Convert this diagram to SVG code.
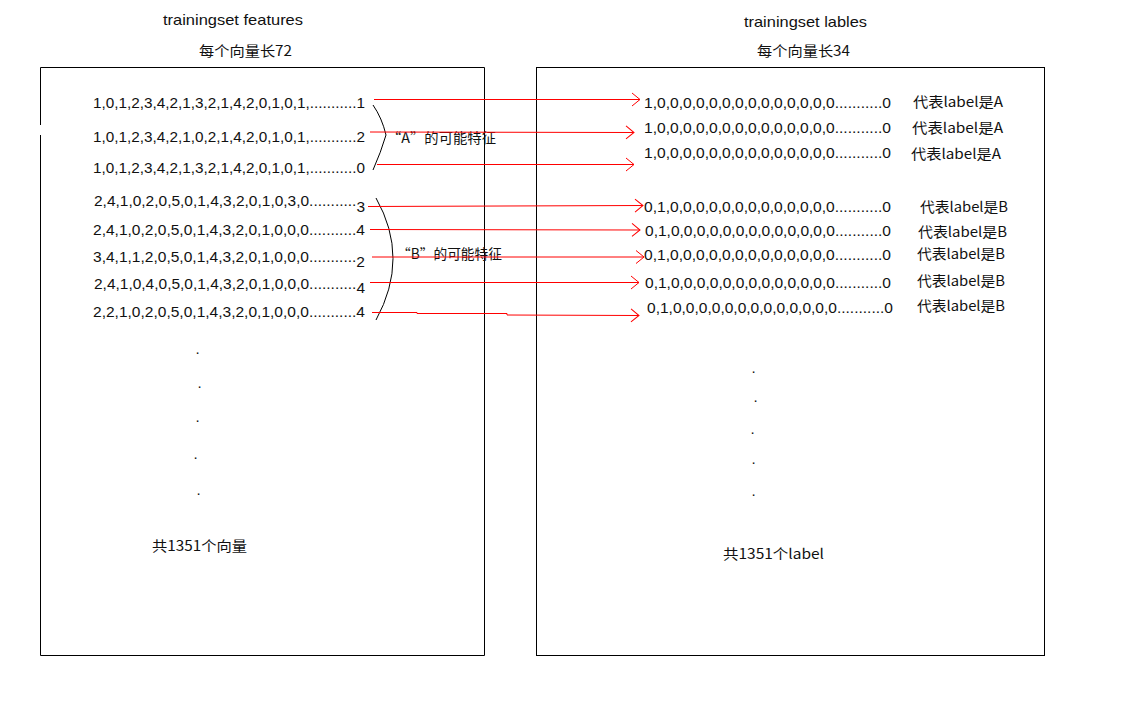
<svg xmlns="http://www.w3.org/2000/svg" width="1148" height="728" viewBox="0 0 1148 728">
<style>
.num{font-family:"Liberation Sans","Noto Sans CJK SC",sans-serif;font-size:15px;fill:#111}
.cn{font-family:"Noto Sans CJK SC","Liberation Sans",sans-serif;font-size:14px;fill:#111}
.ttl{font-family:"Liberation Sans","Noto Sans CJK SC",sans-serif;font-size:14.5px;fill:#111}
.box{fill:none;stroke:#000;stroke-width:1}
.brk{fill:none;stroke:#000;stroke-width:1}
.arr{fill:none;stroke:#f00;stroke-width:1;marker-end:url(#ah)}
.dot{font-family:"Liberation Sans",sans-serif;font-size:15px;fill:#111}
</style>
<defs>
<marker id="ah" markerUnits="userSpaceOnUse" markerWidth="20" markerHeight="20" refX="0" refY="0" viewBox="-12 -10 14 20" orient="auto">
<path d="M-8,-6.5 L0,0 L-8,6.5" fill="none" stroke="#f00" stroke-width="1"/>
</marker>
</defs>
<rect width="1148" height="728" fill="#fff"/>

<g id="features">
<text class="ttl" x="163" y="25" textLength="140" lengthAdjust="spacingAndGlyphs">trainingset features</text>
<text class="cn" x="199" y="56" textLength="93" lengthAdjust="spacingAndGlyphs">每个向量长72</text>
<path class="box" d="M40.5,125 V67.5 H484.5 V655.5 H40.5 V135"/>
<text class="num" x="93" y="108" textLength="272" lengthAdjust="spacingAndGlyphs">1,0,1,2,3,4,2,1,3,2,1,4,2,0,1,0,1,...........1</text>
<text class="num" x="93" y="142" textLength="272" lengthAdjust="spacingAndGlyphs">1,0,1,2,3,4,2,1,0,2,1,4,2,0,1,0,1,...........2</text>
<text class="num" x="93" y="173" textLength="272" lengthAdjust="spacingAndGlyphs">1,0,1,2,3,4,2,1,3,2,1,4,2,0,1,0,1,...........0</text>
<text class="num" x="94" y="206" textLength="271" lengthAdjust="spacingAndGlyphs">2,4,1,0,2,0,5,0,1,4,3,2,0,1,0,3,0...........<tspan dy="6">3</tspan></text>
<text class="num" x="93" y="235" textLength="272" lengthAdjust="spacingAndGlyphs">2,4,1,0,2,0,5,0,1,4,3,2,0,1,0,0,0...........4</text>
<text class="num" x="93" y="262" textLength="272" lengthAdjust="spacingAndGlyphs">3,4,1,1,2,0,5,0,1,4,3,2,0,1,0,0,0...........<tspan dy="5">2</tspan></text>
<text class="num" x="94" y="289" textLength="271" lengthAdjust="spacingAndGlyphs">2,4,1,0,4,0,5,0,1,4,3,2,0,1,0,0,0...........<tspan dy="4">4</tspan></text>
<text class="num" x="93" y="317" textLength="272" lengthAdjust="spacingAndGlyphs">2,2,1,0,2,0,5,0,1,4,3,2,0,1,0,0,0...........4</text>
<path class="brk" d="M373,105 Q382,118 386,135 Q381,152 373,170"/>
<text class="cn" x="387" y="143" textLength="109" lengthAdjust="spacingAndGlyphs">“A”的可能特征</text>
<path class="brk" d="M376,198 Q410,258 376,320"/>
<text class="cn" x="397" y="259" textLength="105" lengthAdjust="spacingAndGlyphs">“B”的可能特征</text>
<text class="dot" x="195.5" y="354">.</text>
<text class="dot" x="197.5" y="388">.</text>
<text class="dot" x="195.5" y="422">.</text>
<text class="dot" x="193.5" y="459">.</text>
<text class="dot" x="196.5" y="495">.</text>
<text class="cn" x="152" y="551" textLength="95" lengthAdjust="spacingAndGlyphs">共1351个向量</text>
</g>

<g id="labels">
<text class="ttl" x="744" y="27" textLength="123" lengthAdjust="spacingAndGlyphs">trainingset lables</text>
<text class="cn" x="757" y="56" textLength="93" lengthAdjust="spacingAndGlyphs">每个向量长34</text>
<rect class="box" x="536.5" y="67.5" width="508" height="588"/>
<text class="num" x="644" y="108" textLength="247" lengthAdjust="spacingAndGlyphs">1,0,0,0,0,0,0,0,0,0,0,0,0,0,0...........0</text>
<text class="num" x="644" y="133" textLength="247" lengthAdjust="spacingAndGlyphs">1,0,0,0,0,0,0,0,0,0,0,0,0,0,0...........0</text>
<text class="num" x="644" y="158" textLength="247" lengthAdjust="spacingAndGlyphs">1,0,0,0,0,0,0,0,0,0,0,0,0,0,0...........0</text>
<text class="num" x="644" y="212" textLength="247" lengthAdjust="spacingAndGlyphs">0,1,0,0,0,0,0,0,0,0,0,0,0,0,0...........0</text>
<text class="num" x="645" y="236" textLength="246" lengthAdjust="spacingAndGlyphs">0,1,0,0,0,0,0,0,0,0,0,0,0,0,0...........0</text>
<text class="num" x="644" y="260" textLength="247" lengthAdjust="spacingAndGlyphs">0,1,0,0,0,0,0,0,0,0,0,0,0,0,0...........0</text>
<text class="num" x="645" y="288" textLength="246" lengthAdjust="spacingAndGlyphs">0,1,0,0,0,0,0,0,0,0,0,0,0,0,0...........0</text>
<text class="num" x="647" y="313" textLength="246" lengthAdjust="spacingAndGlyphs">0,1,0,0,0,0,0,0,0,0,0,0,0,0,0...........0</text>
<text class="cn" x="913" y="107" textLength="90" lengthAdjust="spacingAndGlyphs">代表label是A</text>
<text class="cn" x="912" y="133" textLength="91" lengthAdjust="spacingAndGlyphs">代表label是A</text>
<text class="cn" x="911" y="159" textLength="90" lengthAdjust="spacingAndGlyphs">代表label是A</text>
<text class="cn" x="920" y="212" textLength="88" lengthAdjust="spacingAndGlyphs">代表label是B</text>
<text class="cn" x="918" y="237" textLength="89" lengthAdjust="spacingAndGlyphs">代表label是B</text>
<text class="cn" x="917" y="259" textLength="88" lengthAdjust="spacingAndGlyphs">代表label是B</text>
<text class="cn" x="917" y="286" textLength="88" lengthAdjust="spacingAndGlyphs">代表label是B</text>
<text class="cn" x="917" y="311" textLength="88" lengthAdjust="spacingAndGlyphs">代表label是B</text>
<text class="dot" x="751.5" y="373">.</text>
<text class="dot" x="753.5" y="402">.</text>
<text class="dot" x="750.5" y="434">.</text>
<text class="dot" x="751.5" y="464">.</text>
<text class="dot" x="751.5" y="496">.</text>
<text class="cn" x="723" y="559" textLength="101" lengthAdjust="spacingAndGlyphs">共1351个label</text>
</g>

<g id="connectors">
<path class="arr" d="M374,99.5 L640,99.5"/>
<path class="arr" d="M370,132 L634,132.5"/>
<path class="arr" d="M377,164.5 L634,164.5"/>
<path class="arr" d="M368,206.5 L643,205.5"/>
<path class="arr" d="M370,229.5 L640,230"/>
<path class="arr" d="M372,257 L644,257"/>
<path class="arr" d="M370,282.5 L639,282.5"/>
<path class="arr" d="M372,312.5 L417,312.5 L417,313.5 L507,313.5 L507,315 L639,315.5"/>
</g>
</svg>
